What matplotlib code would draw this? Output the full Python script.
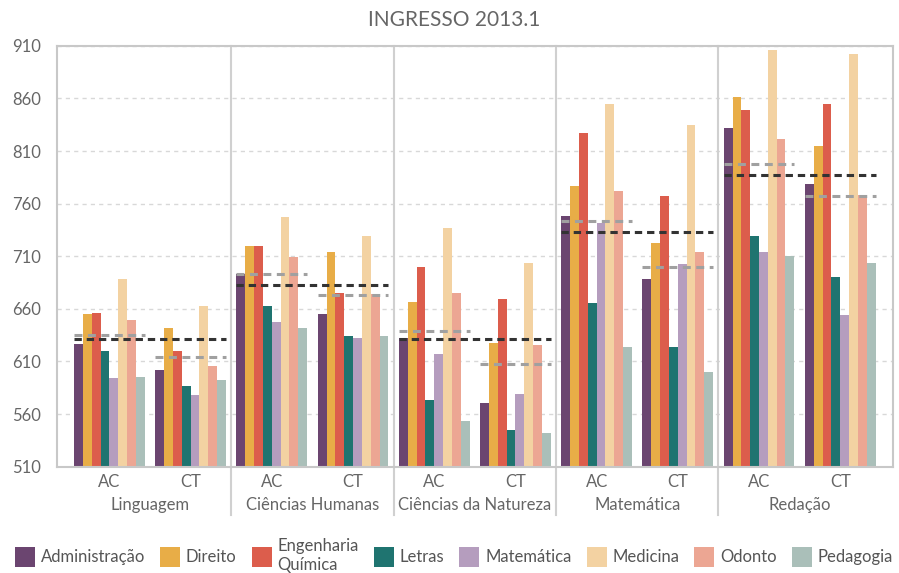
import numpy as np
import matplotlib
matplotlib.use("Agg")
import matplotlib.pyplot as plt
import matplotlib.transforms as mtransforms

plt.rcParams['font.family'] = ['Lato', 'DejaVu Sans']

areas = ['Linguagem', 'Ciências Humanas', 'Ciências da Natureza', 'Matemática', 'Redação']
groups = ['AC', 'CT']
courses = ['Administração', 'Direito', 'Engenharia\nQuímica', 'Letras',
           'Matemática', 'Medicina', 'Odonto', 'Pedagogia']
colors = ['#6b4570', '#e8ad47', '#dc5d4c', '#1f7470',
          '#b59dbe', '#f3d2a2', '#eca693', '#aabfb9']

# one row per course, columns: area x group (AC, CT)
administracao = [627, 602, 693, 655, 632, 571, 748, 688, 832, 779]
direito = [655, 642, 720, 714, 667, 628, 777, 723, 861, 815]
engenharia = [656, 620, 720, 675, 700, 669, 827, 767, 849, 855]
letras = [620, 587, 663, 634, 573, 545, 666, 624, 729, 690]
matematica = [594, 578, 648, 632, 617, 579, 742, 703, 714, 654]
medicina = [688, 663, 747, 729, 737, 704, 855, 835, 906, 902]
odonto = [649, 606, 709, 674, 675, 626, 772, 714, 821, 768]
pedagogia = [595, 592, 642, 634, 553, 542, 624, 600, 710, 704]
series = [administracao, direito, engenharia, letras,
          matematica, medicina, odonto, pedagogia]

# averages: per area (black) and per area/group (grey)
area_mean = [631, 683, 631, 733, 787]
group_mean = [635, 614, 693, 673, 639, 608, 744, 700, 798, 767]

fig = plt.figure(figsize=(8.99, 5.73), dpi=100)
ax = fig.add_axes([0.063, 0.1855, 0.9303, 0.7345])

n = len(series)
span = 0.87
w = span / n
x = np.arange(len(areas) * len(groups))
for j, (vals, c, name) in enumerate(zip(series, colors, courses)):
    ax.bar(x - span / 2 + (j + 0.5) * w, np.array(vals) - 510, bottom=510,
           width=w, color=c, label=name, zorder=2, linewidth=0)

for g, m in zip(x, group_mean):
    ax.plot([g - span / 2, g + span / 2], [m, m], color='#a0a0a0', lw=2.2,
            dashes=(2.6, 1.8), zorder=3)
for k, m in enumerate(area_mean):
    ax.plot([2 * k - span / 2, 2 * k + 1 + span / 2], [m, m], color='#333333',
            lw=2.2, dashes=(2.4, 1.6), zorder=4)

ax.set_ylim(510, 910)
ax.set_xlim(-0.65, 9.65)
ax.set_yticks(np.arange(510, 911, 50))
ax.yaxis.grid(True, color='#d8d8d8', lw=1, dashes=(3, 3))
ax.set_axisbelow(True)
ax.tick_params(length=0, labelsize=12, colors='#666666')
ax.tick_params(axis='y', pad=11)
ax.tick_params(axis='x', pad=5)
ax.set_xticks(x)
ax.set_xticklabels(groups * len(areas))
for s in ax.spines.values():
    s.set_color('#c8c8c8')
    s.set_linewidth(1.5)

for sep in [1.5, 3.5, 5.5, 7.5]:
    ax.axvline(sep, ymin=-0.115, ymax=1, color='#d0d0d0', lw=1.5,
               clip_on=False, zorder=1)

trans = mtransforms.blended_transform_factory(ax.transData, ax.transAxes)
for k, a in enumerate(areas):
    ax.text(2 * k + 0.5, -0.09, a, transform=trans, ha='center', va='center',
            fontsize=12, color='#666666')

fig.text(0.505, 0.965, 'INGRESSO 2013.1', ha='center', va='center',
         fontsize=15, color='#666666')

leg = fig.legend(loc='center', bbox_to_anchor=(0.505, 0.03), ncol=8, frameon=False,
                 fontsize=12, labelcolor='#555555', handlelength=1.2,
                 handleheight=1.45, handletextpad=0.35, columnspacing=0.9,
                 borderaxespad=0)
for t in leg.get_texts():
    t.set_linespacing(1.25)

fig.savefig('out.png', dpi=100)
